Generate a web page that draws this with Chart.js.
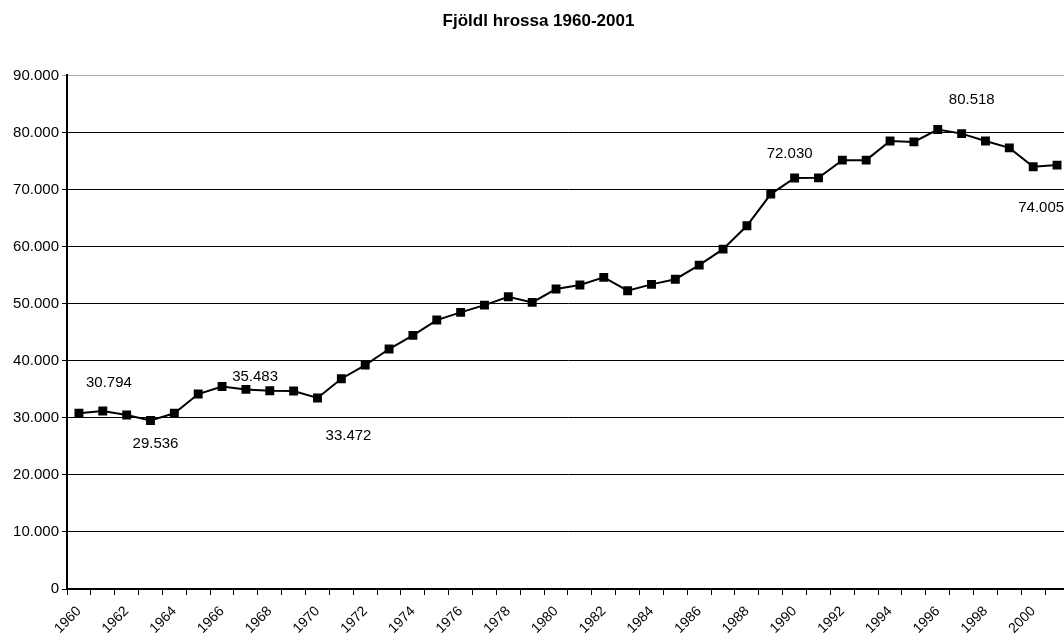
<!DOCTYPE html>
<html>
<head>
<meta charset="utf-8">
<script src="https://cdn.jsdelivr.net/npm/chart.js@4"></script>
<style>
  html, body { margin: 0; padding: 0; background: #fff; overflow: hidden; }
  #wrap { width: 1077px; height: 634px; }
</style>
</head>
<body>
<div id="wrap"><canvas id="chart"></canvas></div>
<script>
var years = [];
for (var y = 1960; y <= 2001; y++) years.push(String(y));

var horses = [
  30794, 31180, 30480, 29536, 30800, 34160, 35483, 34980, 34740, 34690,
  33472, 36850, 39240, 42050, 44450, 47130, 48470, 49750, 51200, 50220,
  52560, 53260, 54600, 52270, 53380, 54290, 56760, 59560, 63650, 69200,
  72030, 72050, 75150, 75150, 78500, 78350, 80518, 79800, 78500, 77300,
  74005, 74280
];

// points that get a value label
var labeledYears = ["1960", "1963", "1966", "1970", "1990", "1996", "2000"];

var yTicks = [0, 10000, 20000, 30000, 40000, 50000, 60000, 70000, 80000, 90000];

function fmt(n) {
  return String(n).replace(/\B(?=(\d{3})+(?!\d))/g, ".");
}

// label offset from its point, in px
var labelShift = {
  "1960": [30, -30], "1963": [5, 23], "1966": [33, -10], "1970": [31, 38],
  "1990": [-5, -24], "1996": [34, -30], "2000": [8, 41]
};

var valueLabels = {
  id: "valueLabels",
  afterDatasetsDraw: function(chart) {
    var ctx = chart.ctx;
    var meta = chart.getDatasetMeta(0);
    ctx.save();
    ctx.font = "15px 'Liberation Sans', Arial, sans-serif";
    ctx.fillStyle = "#000";
    ctx.textAlign = "center";
    ctx.textBaseline = "middle";
    labeledYears.forEach(function(yr) {
      var i = years.indexOf(yr);
      var p = meta.data[i];
      var s = labelShift[yr];
      ctx.fillText(fmt(horses[i]), p.x + s[0], p.y + s[1]);
    });
    ctx.restore();
  }
};

new Chart(document.getElementById("chart"), {
  type: "line",
  data: {
    labels: years,
    datasets: [{
      data: horses,
      borderColor: "#000",
      backgroundColor: "#000",
      borderWidth: 2,
      pointStyle: "rect",
      pointRadius: 6.3,
      pointBorderWidth: 0,
      tension: 0
    }]
  },
  options: {
    responsive: true,
    maintainAspectRatio: false,
    animation: false,
    layout: { padding: 0 },
    plugins: {
      legend: { display: false },
      tooltip: { enabled: false },
      title: {
        display: true,
        text: "Fjöldl hrossa 1960-2001",
        color: "#000",
        font: { family: "'Liberation Sans', Arial, sans-serif", size: 17, weight: "bold" },
        padding: { top: 11, bottom: 44 }
      }
    },
    scales: {
      x: {
        offset: true,
        afterFit: function(s) { s.height = 45; },
        grid: { offset: true, drawOnChartArea: false, color: "#000", tickLength: 6 },
        border: { color: "#000", width: 2 },
        ticks: {
          autoSkip: false,
          maxRotation: 45,
          minRotation: 45,
          color: "#000",
          padding: 8,
          font: { family: "'Liberation Sans', Arial, sans-serif", size: 14 },
          callback: function(v, i) { return i % 2 === 0 ? years[i] : ""; }
        }
      },
      y: {
        min: 0,
        max: 90000,
        afterBuildTicks: function(s) { s.ticks = yTicks.map(function(v) { return { value: v }; }); },
        afterFit: function(s) { s.width = 67; },
        grid: {
          color: function(c) { return c.tick && c.tick.value === 90000 ? "#aaa" : "#000"; },
          lineWidth: 1,
          tickLength: 5
        },
        border: { color: "#000", width: 2 },
        ticks: {
          color: "#000",
          padding: 3,
          font: { family: "'Liberation Sans', Arial, sans-serif", size: 15 },
          callback: function(v) { return fmt(v); }
        }
      }
    }
  },
  plugins: [valueLabels]
});
</script>
</body>
</html>
